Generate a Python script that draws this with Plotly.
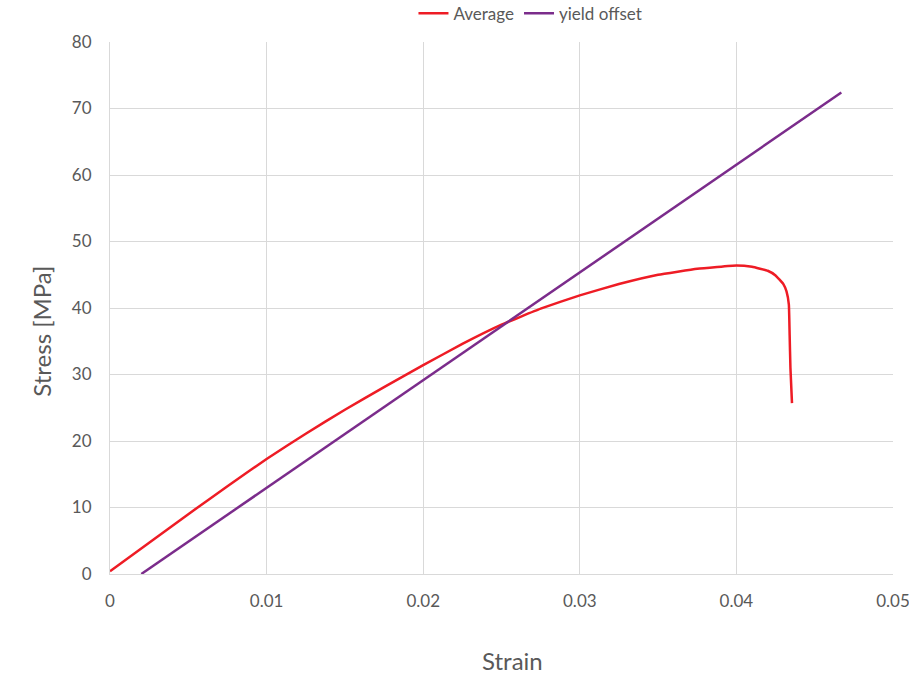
import plotly.graph_objects as go

# Averaged stress-strain curve
avg_strain = [0.0, 0.0025, 0.005, 0.0075, 0.01, 0.0125, 0.015, 0.0175, 0.02,
              0.0225, 0.025, 0.0275, 0.03, 0.0325, 0.035, 0.0375, 0.04, 0.041,
              0.042, 0.0425, 0.043, 0.0432, 0.04335, 0.0434, 0.04345, 0.04355]
avg_stress = [0.4, 4.7, 9.0, 13.2, 17.3, 21.1, 24.7, 28.1, 31.4,
              34.6, 37.5, 39.9, 41.9, 43.6, 45.0, 45.9, 46.4, 46.2,
              45.6, 44.9, 43.6, 42.5, 40.5, 36.0, 31.0, 25.7]

# 0.2% yield offset line
offset_strain = [0.002, 0.0467]
offset_stress = [0.0, 72.4]

# Axis ticks
x_ticks = [0, 0.01, 0.02, 0.03, 0.04, 0.05]
x_tick_text = ["0", "0.01", "0.02", "0.03", "0.04", "0.05"]
y_ticks = [0, 10, 20, 30, 40, 50, 60, 70, 80]

text_color = "#595959"
grid_color = "#d9d9d9"
font_family = "Lato, 'Open Sans', sans-serif"

fig = go.Figure()
fig.add_trace(go.Scatter(x=avg_strain, y=avg_stress, mode="lines", name="Average",
                         line=dict(color="#ee1c25", width=2.5, shape="spline", smoothing=0.3)))
fig.add_trace(go.Scatter(x=offset_strain, y=offset_stress, mode="lines", name="yield offset",
                         line=dict(color="#7b2c8b", width=2.5)))

fig.update_layout(
    width=909, height=674,
    margin=dict(l=110, r=16, t=42, b=100, autoexpand=False),
    paper_bgcolor="white", plot_bgcolor="white",
    font=dict(family=font_family, color=text_color, size=17),
    legend=dict(orientation="h", x=0.537, xanchor="center",
                y=1.053, yanchor="middle",
                font=dict(size=17, color=text_color), itemwidth=30,
                tracegroupgap=0, bgcolor="rgba(0,0,0,0)"),
    xaxis=dict(range=[0, 0.05], tickmode="array", tickvals=x_ticks, ticktext=x_tick_text,
               automargin=False, ticklabeloverflow="allow",
               showgrid=True, gridcolor=grid_color, gridwidth=1,
               showline=True, linecolor=grid_color, linewidth=1, mirror=False,
               zeroline=False, ticks="", ticklen=0, ticklabelstandoff=12,
               tickfont=dict(size=17, color=text_color)),
    yaxis=dict(range=[0, 80], tickmode="array", tickvals=y_ticks, automargin=False,
               showgrid=True, gridcolor=grid_color, gridwidth=1,
               showline=True, linecolor=grid_color, linewidth=1,
               zeroline=False, ticks="", ticklen=0, ticklabelstandoff=14,
               tickfont=dict(size=17, color=text_color)),
)

# Axis titles placed as annotations
fig.add_annotation(text="Strain", xref="paper", yref="paper", x=0.514, y=-0.162,
                   xanchor="center", yanchor="middle", showarrow=False,
                   font=dict(size=24, color=text_color, family=font_family))
fig.add_annotation(text="Stress [MPa]", xref="paper", yref="paper", x=-0.087, y=0.457,
                   xanchor="center", yanchor="middle", showarrow=False, textangle=-90,
                   font=dict(size=24, color=text_color, family=font_family))

fig.write_html("out.html")
